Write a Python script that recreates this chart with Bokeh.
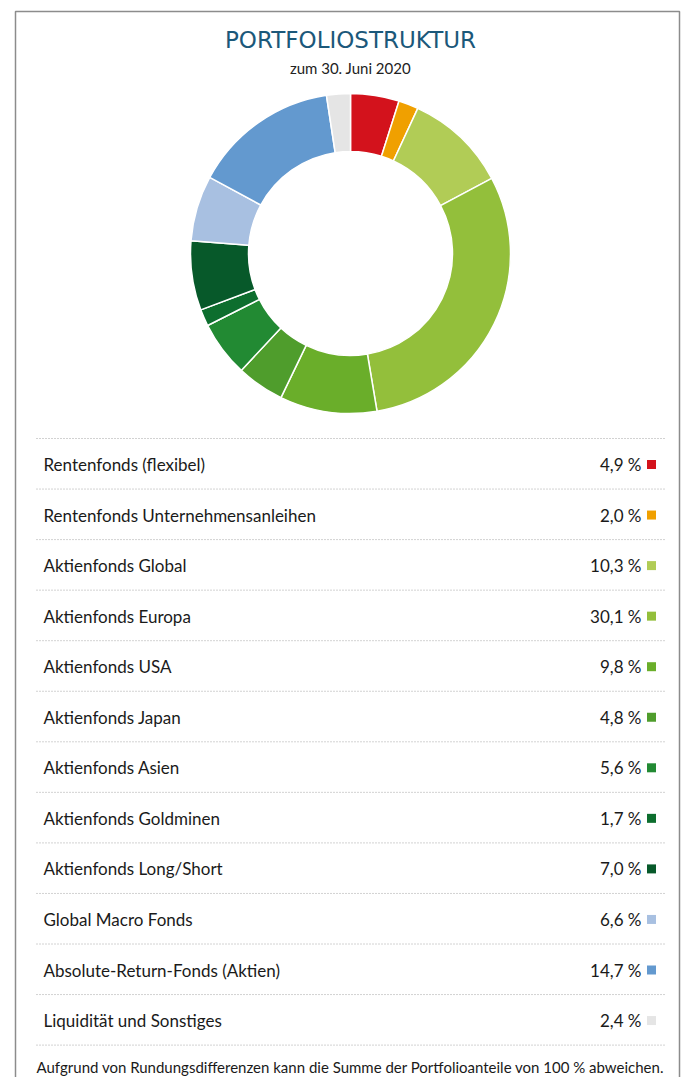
import math
from bokeh.plotting import figure
from bokeh.models import Range1d, ColumnDataSource
from bokeh.core.properties import value
from bokeh.embed import file_html
from bokeh.resources import INLINE

title = "PORTFOLIOSTRUKTUR"
subtitle = "zum 30. Juni 2020"
footnote = "Aufgrund von Rundungsdifferenzen kann die Summe der Portfolioanteile von 100 % abweichen."

categories = [
    "Rentenfonds (flexibel)",
    "Rentenfonds Unternehmensanleihen",
    "Aktienfonds Global",
    "Aktienfonds Europa",
    "Aktienfonds USA",
    "Aktienfonds Japan",
    "Aktienfonds Asien",
    "Aktienfonds Goldminen",
    "Aktienfonds Long/Short",
    "Global Macro Fonds",
    "Absolute-Return-Fonds (Aktien)",
    "Liquidität und Sonstiges",
]
shares = [4.9, 2.0, 10.3, 30.1, 9.8, 4.8, 5.6, 1.7, 7.0, 6.6, 14.7, 2.4]
colors = ["#d3121c", "#f0a000", "#b1cc56", "#93bf3b", "#6aae2a", "#4f9d2c",
          "#228a33", "#0d6e2e", "#07592a", "#a8c0e1", "#6399cf", "#e5e5e5"]

FONT = "Lato"
W, H = 687, 1077
p = figure(width=W, height=H, x_range=Range1d(0, W), y_range=Range1d(-H, 0),
           output_backend="svg", toolbar_location=None, min_border=0)
p.axis.visible = False
p.grid.visible = False
p.outline_line_color = None
p.background_fill_color = "white"
p.border_fill_color = "white"

# frame
p.line([15, 15, 679, 679], [-1077, -11, -11, -1077], line_color="#8c8c8c", line_width=1.5)

# title
p.text(x=[350], y=[-39], text=[title], text_font=value("DejaVu Sans"), text_font_size="23px",
       text_color="#1b587a", text_align="center", text_baseline="middle")
p.text(x=[350], y=[-67], text=[subtitle], text_font=value(FONT), text_font_size="15px",
       text_color="#222222", text_align="center", text_baseline="middle")

# donut
total = sum(shares)
cum = [0.0]
for s in shares:
    cum.append(cum[-1] + s)
starts = [math.pi / 2 - 2 * math.pi * c / total for c in cum[:-1]]
ends = [math.pi / 2 - 2 * math.pi * c / total for c in cum[1:]]
src = ColumnDataSource(dict(start=starts, end=ends, color=colors))
p.annular_wedge(x=350, y=-253, inner_radius=102, outer_radius=160,
                start_angle="start", end_angle="end", direction="clock",
                fill_color="color", line_color="white", line_width=1.5, source=src)

# legend table
row0, step = 464, 50.55
ys = [-(row0 + step * i) for i in range(len(categories))]
labels = [f"{v:.1f}".replace(".", ",") + " %" for v in shares]
p.text(x=[43] * len(categories), y=ys, text=categories, text_font=value(FONT),
       text_font_size="17px", text_color="#1a1a1a", text_align="left", text_baseline="middle")
p.text(x=[641] * len(categories), y=ys, text=labels, text_font=value(FONT),
       text_font_size="17px", text_color="#1a1a1a", text_align="right", text_baseline="middle")
p.rect(x=[651] * len(categories), y=ys, width=9, height=9, fill_color=colors, line_color=None)

sep_y = [-(438 + step * i) for i in range(len(categories) + 1)]
p.multi_line(xs=[[36, 666]] * len(sep_y), ys=[[y, y] for y in sep_y],
             line_color="#a5a5a5", line_width=1, line_dash="1 2")

p.text(x=[36], y=[-1066], text=[footnote], text_font=value(FONT), text_font_size="15px",
       text_color="#1a1a1a", text_align="left", text_baseline="middle")

open("out.html", "w").write(file_html(p, INLINE))
